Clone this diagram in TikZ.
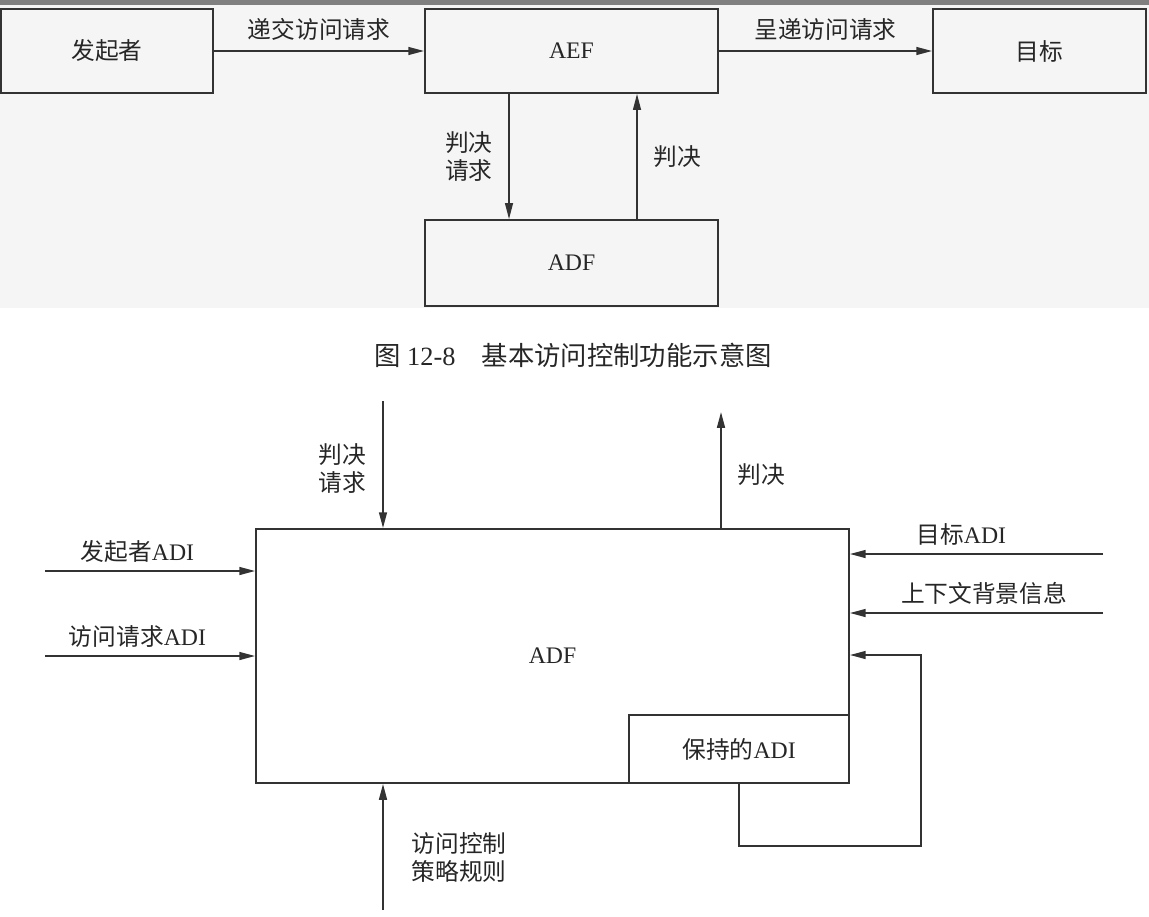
\documentclass[tikz,border=0pt]{standalone}
\usepackage{fontspec}
\setmainfont{Liberation Serif}
\newfontfamily\cjk{Noto Sans CJK SC}
\usetikzlibrary{arrows.meta}

\begin{document}
\begin{tikzpicture}[x=0.02cm,y=-0.02cm]
		\tikzset{box/.style={draw=black!80, line width=1.1pt, inner sep=0pt, text=black!85, font=\fontsize{13.5}{16}\selectfont},
			arr/.style={draw=black!80, line width=1pt, -{Triangle[length=9pt,width=4.5pt]}},
			thinarr/.style={arr, line width=0.7pt},
			lbl/.style={text=black!85, align=center, font=\cjk\fontsize{13.5}{16}\selectfont}};
		\useasboundingbox (0,0) rectangle (1149,916);
		\fill[black!4] (0,5) rectangle (1149,308);
		\fill[black!50] (0,0) rectangle (1149,5);
		\node[box, minimum width=4.24cm, minimum height=1.68cm, font=\cjk\fontsize{13.5}{16}\selectfont] (init) at (107,51) {发起者};
		\node[box, minimum width=5.86cm, minimum height=1.68cm] (aef) at (571.5,51) {AEF};
		\node[box, minimum width=4.26cm, minimum height=1.68cm, font=\cjk\fontsize{13.5}{16}\selectfont] (tgt) at (1039.5,51) {目标};
		\node[box, minimum width=5.86cm, minimum height=1.72cm] (adf) at (571.5,263) {ADF};
		\draw[arr] (init) -- node[lbl, above=2pt]{递交访问请求} (aef);
		\draw[arr] (aef) -- node[lbl, above=2pt]{呈递访问请求} (tgt);
		\draw[thinarr] (aef.south -| 509,0) -- node[lbl, left=0.2cm]{判决\\请求} (adf.north -| 509,0);
		\draw[thinarr] (adf.north -| 637,0) -- node[lbl, right=0.2cm]{判决} (aef.south -| 637,0);
		\node[font=\fontsize{15}{18}\selectfont, text=black!85] (cap) at (573,355) {{\cjk 图} 12-8\quad{\cjk 基本访问控制功能示意图}};
		\node[box, minimum width=11.86cm, minimum height=5.08cm] (big) at (552.5,656) {ADF};
		\node[box, fill=white, minimum width=4.4cm, minimum height=1.36cm] (held) at (739,749) {{\cjk 保持的}ADI};
		\coordinate (reqin) at (383,401);
		\coordinate (decout) at (721,412);
		\coordinate (initin) at (45,571);
		\coordinate (reqadi) at (45,656);
		\coordinate (tgtin) at (1103,554);
		\coordinate (ctxin) at (1103,613);
		\coordinate (polin) at (383,910);
		\coordinate (loop) at (921,846);
		\draw[arr] (reqin) -- node[lbl, left=0.2cm, pos=0.53]{判决\\请求} (big.north -| reqin);
		\draw[arr] (big.north -| decout) -- node[lbl, right=0.2cm, pos=0.46]{判决} (decout);
		\draw[arr] (initin) -- node[lbl, above=1pt, pos=0.44]{发起者{\rmfamily ADI}} (big.west |- initin);
		\draw[arr] (reqadi) -- node[lbl, above=1pt, pos=0.44]{访问请求{\rmfamily ADI}} (big.west |- reqadi);
		\draw[arr] (tgtin) -- node[lbl, above=1pt, pos=0.56]{目标{\rmfamily ADI}} (big.east |- tgtin);
		\draw[arr] (ctxin) -- node[lbl, above=1pt, pos=0.47]{上下文背景信息} (big.east |- ctxin);
		\draw[arr] (polin) -- node[lbl, right=0.44cm, pos=0.42]{访问控制\\策略规则} (big.south -| polin);
		\draw[arr] (held.south -| 739,0) |- (loop) |- (big.east |- 0,655);
	\end{tikzpicture}
\end{document}
